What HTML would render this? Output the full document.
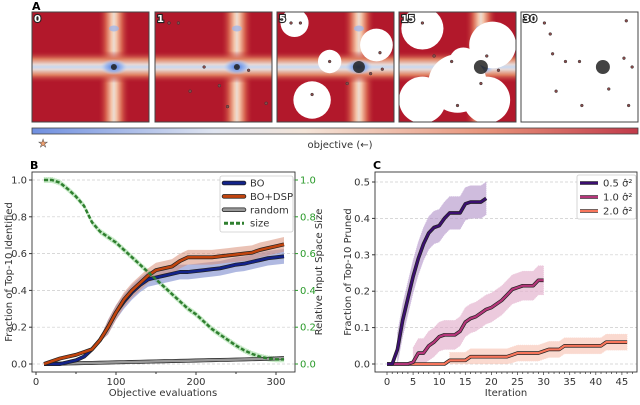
<!DOCTYPE html>
<html><head><meta charset="utf-8"><style>
body{margin:0;background:#fff;width:640px;height:400px;overflow:hidden;font-family:"Liberation Sans","DejaVu Sans",sans-serif}
svg text{font-family:"DejaVu Sans","Liberation Sans",sans-serif}
</style></head><body>
<svg id="fig" width="640" height="400" viewBox="0 0 640 400" xmlns="http://www.w3.org/2000/svg">
<defs>
<linearGradient id="vband" x1="0" x2="1" y1="0" y2="0">
<stop offset="0" stop-color="#b2182b" stop-opacity="0"/><stop offset="0.25" stop-color="#d6604d"/><stop offset="0.42" stop-color="#f4c4a8"/><stop offset="0.5" stop-color="#ecdcd2"/><stop offset="0.58" stop-color="#f4c4a8"/><stop offset="0.75" stop-color="#d6604d"/><stop offset="1" stop-color="#b2182b" stop-opacity="0"/></linearGradient>
<linearGradient id="hband" x1="0" x2="0" y1="0" y2="1">
<stop offset="0" stop-color="#b2182b" stop-opacity="0"/><stop offset="0.25" stop-color="#e08060"/><stop offset="0.42" stop-color="#e8d8d4"/><stop offset="0.5" stop-color="#c8d8f0"/><stop offset="0.58" stop-color="#e8d8d4"/><stop offset="0.75" stop-color="#e08060"/><stop offset="1" stop-color="#b2182b" stop-opacity="0"/></linearGradient>
<radialGradient id="blue"><stop offset="0" stop-color="#3b6fe0"/><stop offset="0.6" stop-color="#8fb0f0" stop-opacity="0.7"/><stop offset="1" stop-color="#c8d8f0" stop-opacity="0"/></radialGradient>
<linearGradient id="cbar" x1="0" x2="1"><stop offset="0" stop-color="#6f8fe0"/><stop offset="0.3" stop-color="#dfe4f0"/><stop offset="0.45" stop-color="#f4e4d8"/><stop offset="0.75" stop-color="#e8937a"/><stop offset="1" stop-color="#c13a4a"/></linearGradient>
<clipPath id="clipC"><rect x="375" y="172" width="262" height="200"/></clipPath>
<clipPath id="clipB"><rect x="32" y="172" width="263" height="200"/></clipPath>
</defs>
<text x="32" y="10" font-size="11" font-weight="bold">A</text>
<g id="panelsA"></g>
<rect x="32" y="128" width="606" height="6" fill="url(#cbar)" stroke="#444" stroke-width="0.8"/>
<text x="43" y="147" font-size="11" text-anchor="middle" fill="#f0a070" stroke="#555" stroke-width="0.5">★</text>
<text x="340" y="148" font-size="10" text-anchor="middle" fill="#333">objective (←)</text>
<g id="chartB"></g>
<g id="chartC"></g>
</svg>
<script>
// ===== Panel B data =====
const bX = [10,20,30,40,50,60,70,80,90,100,110,120,130,140,150,160,170,180,190,200,210,220,230,240,250,260,270,280,290,300,310];
const bBO = [0,0,0,0.01,0.02,0.04,0.08,0.13,0.2,0.28,0.34,0.39,0.43,0.46,0.47,0.48,0.49,0.5,0.5,0.505,0.51,0.515,0.52,0.53,0.54,0.545,0.555,0.565,0.575,0.58,0.585];
const bDSP = [0,0.015,0.03,0.04,0.05,0.065,0.08,0.13,0.2,0.28,0.35,0.4,0.44,0.48,0.51,0.52,0.53,0.56,0.58,0.58,0.58,0.58,0.585,0.59,0.595,0.6,0.605,0.62,0.63,0.64,0.65];
const bRand = [0,0.001,0.002,0.003,0.004,0.005,0.006,0.007,0.008,0.009,0.01,0.011,0.012,0.013,0.014,0.015,0.016,0.017,0.018,0.019,0.02,0.021,0.022,0.023,0.024,0.025,0.026,0.027,0.028,0.03,0.032];
const bSize = [1.0,1.0,0.985,0.95,0.91,0.86,0.77,0.72,0.69,0.66,0.62,0.58,0.54,0.5,0.46,0.42,0.38,0.34,0.3,0.27,0.23,0.19,0.16,0.13,0.1,0.075,0.055,0.04,0.03,0.025,0.025];
const bXTicks = [0,100,200,300];
const bYTicks = [0,0.2,0.4,0.6,0.8,1.0];
// ===== Panel C data =====
const c1 = [0,0,0.04,0.12,0.18,0.24,0.29,0.33,0.36,0.375,0.38,0.40,0.415,0.415,0.415,0.44,0.445,0.445,0.445,0.455];
const c2 = [0,0,0,0,0,0.005,0.03,0.03,0.05,0.06,0.075,0.08,0.08,0.08,0.09,0.115,0.125,0.13,0.14,0.15,0.155,0.165,0.175,0.19,0.205,0.21,0.215,0.215,0.215,0.23,0.23];
const c3 = [0,0,0,0,0,0,0,0,0,0,0,0,0.01,0.01,0.01,0.01,0.02,0.02,0.02,0.02,0.02,0.02,0.02,0.02,0.025,0.03,0.03,0.03,0.03,0.03,0.035,0.04,0.04,0.04,0.05,0.05,0.05,0.05,0.05,0.05,0.05,0.05,0.06,0.06,0.06,0.06,0.06];
const c1Err = 0.045, c2Err = 0.04, c3Err = 0.022;
const cXTicks = [0,5,10,15,20,25,30,35,40,45];
const cYTicks = [0,0.1,0.2,0.3,0.4,0.5];
const panelLabels = ['0','1','5','15','30'];

const NS='http://www.w3.org/2000/svg';
function mk(parent,tag,attrs,text){const e=document.createElementNS(NS,tag);for(const k in attrs)e.setAttribute(k,attrs[k]);if(text!==undefined)e.textContent=text;parent.appendChild(e);return e;}

// ===== Panel A =====
const gA=document.getElementById('panelsA');
const px=[32,155,277,399,521], pw=117, py=12, ph=110;
const blobs=[[],[],[[0.15,0.1,0.12],[0.85,0.3,0.14],[0.45,0.45,0.1],[0.3,0.8,0.16]],[[0.2,0.15,0.18],[0.8,0.3,0.2],[0.5,0.65,0.25],[0.2,0.8,0.2],[0.75,0.8,0.2],[0.55,0.45,0.12]],[]];
const dotsA=[[],[[0.12,0.1],[0.2,0.1],[0.42,0.5],[0.55,0.67],[0.8,0.53],[0.3,0.72],[0.62,0.86],[0.95,0.83]],[[0.12,0.1],[0.2,0.1],[0.45,0.45],[0.3,0.75],[0.6,0.65],[0.88,0.37],[0.9,0.52],[0.8,0.56]],[[0.2,0.1],[0.3,0.4],[0.45,0.45],[0.75,0.4],[0.85,0.53],[0.7,0.65],[0.5,0.85]],[[0.2,0.1],[0.25,0.2],[0.27,0.38],[0.38,0.45],[0.5,0.45],[0.9,0.08],[0.95,0.5],[0.3,0.72],[0.52,0.85],[0.75,0.7],[0.92,0.85],[0.88,0.42]]];
for(let i=0;i<5;i++){
  const g=mk(gA,'g',{});
  
  
  const x=px[i];
  if(i<4){
    mk(g,'rect',{x:x,y:py,width:pw,height:ph,fill:'#b2182b'});
    mk(g,'rect',{x:x+pw*0.70-16,y:py,width:32,height:ph,fill:'url(#vband)'});
    mk(g,'rect',{x:x,y:py+ph*0.5-16,width:pw,height:32,fill:'url(#hband)'});
    mk(g,'ellipse',{cx:x+pw*0.70,cy:py+ph*0.5,rx:14,ry:8,fill:'url(#blue)'});
    mk(g,'ellipse',{cx:x+pw*0.70,cy:py+ph*0.15,rx:5,ry:3,fill:'#9ab4ec',opacity:0.7});
    for(const b of blobs[i]) mk(g,'circle',{cx:x+pw*b[0],cy:py+ph*b[1],r:pw*b[2],fill:'#fff'});
  } else mk(g,'rect',{x:x,y:py,width:pw,height:ph,fill:'#fff'});
  for(const d of dotsA[i]) mk(g,'circle',{cx:x+pw*d[0],cy:py+ph*d[1],r:1.4,fill:'#8a4a4a',stroke:'#333','stroke-width':0.5});
  const cr = i<2?3:(i==2?6:7);
  mk(g,'circle',{cx:x+pw*0.70,cy:py+ph*0.5,r:cr,fill:'#222',opacity:0.85});
  mk(g,'rect',{x:x,y:py,width:pw,height:ph,fill:'none',stroke:'#444','stroke-width':1});
  mk(g,'text',{x:x+2,y:py+10,'font-size':10,'font-weight':'bold',fill:'#fff',stroke:'#222','stroke-width':2.2,'paint-order':'stroke'},panelLabels[i]);
}

function band(g,xs,ys,err,xf,yf,fill,op,name){
  let d='M'+xs.map((v,i)=>xf(v)+','+yf(ys[i]+err)).join('L')+'L'+xs.map((v,i)=>xf(v)+','+yf(Math.max(0,ys[i]-err))).reverse().join('L')+'Z';
  const p=mk(g,'path',{d:d,fill:fill,opacity:op,stroke:fill,'stroke-dasharray':'1,1','stroke-width':0.6});
  
  
}
function line(g,xs,ys,xf,yf,col,w,name,dash){
  const d='M'+xs.map((v,i)=>xf(v)+','+yf(ys[i])).join('L');
  if(!dash) mk(g,'path',{d:d,fill:'none',stroke:'#222','stroke-width':w+1.4,'stroke-linejoin':'round'});
  const p=mk(g,'path',{d:d,fill:'none',stroke:col,'stroke-width':w,'stroke-linejoin':'round'});
  if(dash)p.setAttribute('stroke-dasharray',dash);
  
  
}

// ===== Panel B =====
const gB=document.getElementById('chartB');
const bL=32,bR=295,bT=172,bB=372;
const xB=v=>36+v*0.8, yB=v=>364-v*184;
mk(gB,'text',{x:30,y:169,'font-size':11,'font-weight':'bold'},'B');
for(const t of bYTicks){mk(gB,'line',{x1:bL,x2:bR,y1:yB(t),y2:yB(t),stroke:'#ccc','stroke-dasharray':'3,2','stroke-width':0.7});}
const errB=bX.map(v=>v<90?0.01:0.04);
band(gB,bX,bSize,0.015,xB,yB,'#9fdc9f',0.6,'size-band');
(function(){const xs=bX;let d='M'+xs.map((v,i)=>xB(v)+','+yB(bBO[i]+errB[i])).join('L')+'L'+xs.map((v,i)=>xB(v)+','+yB(Math.max(0,bBO[i]-errB[i]))).reverse().join('L')+'Z';const p=mk(gB,'path',{d:d,fill:'#7080c8',opacity:0.55});
d='M'+xs.map((v,i)=>xB(v)+','+yB(bDSP[i]+errB[i])).join('L')+'L'+xs.map((v,i)=>xB(v)+','+yB(Math.max(0,bDSP[i]-errB[i]))).reverse().join('L')+'Z';const q=mk(gB,'path',{d:d,fill:'#d89078',opacity:0.55});})();
line(gB,bX,bRand,xB,yB,'#999',2.5,'random-line');
line(gB,bX,bBO,xB,yB,'#13238a',2.5,'bo-line');
line(gB,bX,bDSP,xB,yB,'#c1440e',2.5,'bo-dsp-line');
line(gB,bX,bSize,xB,yB,'#2f7f2f',2.5,'size-line','4,2');
mk(gB,'rect',{x:bL,y:bT,width:bR-bL,height:bB-bT,fill:'none',stroke:'#333','stroke-width':0.9});
for(const t of bYTicks){
  mk(gB,'line',{x1:bL-3,x2:bL,y1:yB(t),y2:yB(t),stroke:'#333'});
  mk(gB,'text',{x:bL-5,y:yB(t)+3.5,'font-size':10,'text-anchor':'end',fill:'#333'},t.toFixed(1));
  mk(gB,'line',{x1:bR,x2:bR+3,y1:yB(t),y2:yB(t),stroke:'#2a9a2a'});
  mk(gB,'text',{x:bR+5,y:yB(t)+3.5,'font-size':10,fill:'#2a9a2a'},t.toFixed(1));
}
for(const t of bXTicks){
  mk(gB,'line',{x1:xB(t),x2:xB(t),y1:bB,y2:bB+3,stroke:'#333'});
  mk(gB,'text',{x:xB(t),y:bB+13,'font-size':10,'text-anchor':'middle',fill:'#333'},t);
}
for(let t=50;t<=300;t+=100) mk(gB,'line',{x1:xB(t),x2:xB(t),y1:bB,y2:bB+2,stroke:'#333'});
mk(gB,'text',{x:163,y:396,'font-size':10,'text-anchor':'middle',fill:'#333'},'Objective evaluations');
mk(gB,'text',{x:12,y:272,'font-size':10,'text-anchor':'middle',fill:'#333',transform:'rotate(-90 12 272)'},'Fraction of Top-10 Identified');
mk(gB,'text',{x:322,y:272,'font-size':10,'text-anchor':'middle',fill:'#333',transform:'rotate(-90 322 272)'},'Relative Input Space Size');
const lgB=mk(gB,'g',{});


mk(lgB,'rect',{x:220,y:176,width:73,height:56,fill:'#fff',stroke:'#ccc','stroke-width':0.8,rx:2});
const lgItems=[['BO','#13238a',null],['BO+DSP','#c1440e',null],['random','#999',null],['size','#2f7f2f','4,2']];
lgItems.forEach((it,i)=>{const y=183+i*13.4;
  if(!it[2])mk(lgB,'line',{x1:224,x2:244,y1:y,y2:y,stroke:'#222','stroke-width':4.5,'stroke-linecap':'round'});
  const l=mk(lgB,'line',{x1:224,x2:244,y1:y,y2:y,stroke:it[1],'stroke-width':3,'stroke-linecap':it[2]?'butt':'round'});
  if(it[2])l.setAttribute('stroke-dasharray',it[2]);
  mk(lgB,'text',{x:250,y:y+3.5,'font-size':10,fill:'#333'},it[0]);});

// ===== Panel C =====
const gC=document.getElementById('chartC');
const cL=375,cR=637,cT=172,cB=372;
const xC=v=>387+v*5.22, yC=v=>364-v*364;
mk(gC,'text',{x:373,y:169,'font-size':11,'font-weight':'bold'},'C');
for(const t of cYTicks) mk(gC,'line',{x1:cL,x2:cR,y1:yC(t),y2:yC(t),stroke:'#ccc','stroke-dasharray':'3,2','stroke-width':0.7});
const idx=a=>a.map((v,i)=>i);
const gCp=mk(gC,'g',{'clip-path':'url(#clipC)'});
band(gCp,idx(c1).slice(2),c1.slice(2),c1Err,xC,yC,'#b090c8',0.6,'c1-band');
band(gCp,idx(c2).slice(5),c2.slice(5),c2Err,xC,yC,'#e0a8c8',0.6,'c2-band');
band(gCp,idx(c3).slice(12),c3.slice(12),c3Err,xC,yC,'#f8c0b0',0.6,'c3-band');
line(gCp,idx(c3),c3,xC,yC,'#f8765c',2.2,'c3-line');
line(gCp,idx(c2),c2,xC,yC,'#b5367a',2.2,'c2-line');
line(gCp,idx(c1),c1,xC,yC,'#3b0f70',2.2,'c1-line');
mk(gC,'rect',{x:cL,y:cT,width:cR-cL,height:cB-cT,fill:'none',stroke:'#333','stroke-width':0.9});
for(const t of cYTicks){
  mk(gC,'line',{x1:cL-3,x2:cL,y1:yC(t),y2:yC(t),stroke:'#333'});
  mk(gC,'text',{x:cL-5,y:yC(t)+3.5,'font-size':10,'text-anchor':'end',fill:'#333'},t.toFixed(1));
}
for(let t=0;t<=47;t++) mk(gC,'line',{x1:xC(t),x2:xC(t),y1:cB,y2:cB+(t%5==0?3:2),stroke:'#333','stroke-width':0.7});
for(const t of cXTicks) mk(gC,'text',{x:xC(t),y:cB+13,'font-size':10,'text-anchor':'middle',fill:'#333'},t);
mk(gC,'text',{x:506,y:396,'font-size':10,'text-anchor':'middle',fill:'#333'},'Iteration');
mk(gC,'text',{x:351,y:272,'font-size':10,'text-anchor':'middle',fill:'#333',transform:'rotate(-90 351 272)'},'Fraction of Top-10 Pruned');
const lgC=mk(gC,'g',{});


mk(lgC,'rect',{x:577,y:175,width:59,height:44,fill:'#fff',stroke:'#ccc','stroke-width':0.8,rx:2});
[['0.5','#3b0f70'],['1.0','#b5367a'],['2.0','#f8765c']].forEach((it,i)=>{const y=183+i*14;
  mk(lgC,'line',{x1:580,x2:598,y1:y,y2:y,stroke:'#222','stroke-width':3.6});
  mk(lgC,'line',{x1:580,x2:598,y1:y,y2:y,stroke:it[1],'stroke-width':2.2});
  mk(lgC,'text',{x:603,y:y+3.5,'font-size':10,fill:'#333'},it[0]+' σ̂²');});
</script>
</body></html>
